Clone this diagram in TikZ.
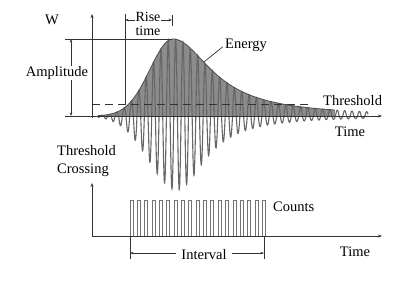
\documentclass[tikz,border=0pt]{standalone}
\usepackage{fontspec}
\setmainfont{Liberation Serif}
\usetikzlibrary{arrows.meta, positioning, calc}

\begin{document}
\begin{tikzpicture}[
    x=1pt, y=-1pt,
    font=\fontsize{14.5}{17}\selectfont,
    lbl/.style={inner sep=0pt, align=left},
    axis/.style={-{Stealth[length=4pt, width=3pt]}, line width=0.8pt, draw=black!80},
    guide/.style={line width=0.7pt, draw=black!80},
    dim/.style={-{Stealth[length=3.5pt, width=2.6pt]}, line width=0.6pt, draw=black!80},
    thr/.style={dash pattern=on 8pt off 5pt, line width=0.8pt, draw=black!80},
    energyfill/.style={fill=black!45},
    envelope/.style={line width=0.8pt, draw=black!70},
    wave/.style={line width=1.1pt, draw=black!60},
    pulse/.style={line width=0.8pt, draw=black!55},
    declare function={
        epos(\t)=(\t<173)*77*exp(-0.5*min(((\t-173)/23)^2,20))+(\t>=173)*77/(1+((\t-173)/47)^2);
        eneg(\t)=(\t<177)*74*exp(-0.5*min(((\t-177)/28)^2,20))+(\t>=177)*74/(1+((\t-177)/34)^2);
        phs(\t)=(\t-129.66)*48.98;
        wav(\t)=sin(phs(\t))*((sin(phs(\t))>0)*epos(\t)+(sin(phs(\t))<=0)*eneg(\t));
    },
]
\useasboundingbox (0,0) rectangle (420,289);

% Energy and waveform
\fill[energyfill] (98,116) -- plot[domain=98:335, samples=240] (\x,{116-epos(\x)}) -- (335,116) -- cycle;
\draw[wave] plot[domain=98:368, samples=1600] (\x,{116-wav(\x)});
\draw[envelope] plot[domain=98:335, samples=240] (\x,{116-epos(\x)});

% Coordinates
\coordinate (ampTop) at (71,39);
\coordinate (ampBot) at (71,116);
\coordinate (riseL) at (125,20);
\coordinate (riseR) at (172,20);
\coordinate (thrL) at (92,104);
\coordinate (thrR) at (313,104);
\coordinate (ePt) at (204,62);
\coordinate (ivL) at (130,253);
\coordinate (ivR) at (264,253);

% Axes
\draw[axis] (92,118) -- (92,14);
\draw[axis] (65,116) -- (382,116);
\draw[axis] (92,236) -- (92,183);
\draw[axis] (92,236) -- (382,236);

% Guides
\draw[guide] (65,39) -- (172,39);
\draw[guide] (125,14) -- (thrL -| riseL);
\draw[guide] (172,15) -- (172,26);
\draw[thr] (thrL) -- (thrR);
\draw[guide] (130,236) -- (130,259);
\draw[guide] (264,236) -- (264,259);

% Counts
\foreach \k in {0,...,18}
    \draw[pulse] ({130+\k*7.35},236) -- ++(0,-36) -- ++(3,0) -- ++(0,36);

% Labels
\node[lbl] (W) at (52,20) {W};
\node[lbl, fill=white] (amp) at (57,73) {Amplitude};
\node[lbl, align=center, font=\fontsize{14}{13.5}\selectfont] (rise) at (148,24) {Rise\\time};
\node[lbl, anchor=west] (energy) at (225,45) {Energy};
\node[lbl, anchor=west] (thrLbl) at (323,101) {Threshold};
\node[lbl] (t1) at (350,132) {Time};
\node[lbl, anchor=west, font=\fontsize{14.5}{18.5}\selectfont] (tc) at (57,161) {Threshold\\Crossing};
\node[lbl, anchor=west] (counts) at (273,207) {Counts};
\node[lbl] (intv) at (204,255) {Interval};
\node[lbl] (t2) at (355,252) {Time};

% Dimension arrows
\draw[dim] (amp.north -| ampTop) -- (ampTop);
\draw[dim] (amp.south -| ampBot) -- (ampBot);
\draw[dim] (riseL -| rise.west) -- (riseL);
\draw[dim] (riseR -| rise.east) -- (riseR);
\draw[guide, shorten <=3pt] (energy.west) -- (ePt);
\draw[dim, shorten <=5pt] (ivL -| intv.west) -- (ivL);
\draw[dim, shorten <=5pt] (ivR -| intv.east) -- (ivR);

\end{tikzpicture}
\end{document}
